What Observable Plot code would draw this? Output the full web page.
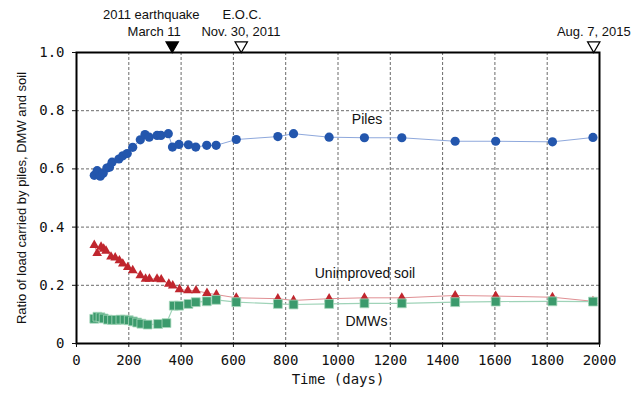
<!DOCTYPE html>
<html>
<head>
<meta charset="utf-8">
<script src="https://cdn.jsdelivr.net/npm/d3@7"></script>
<script src="https://cdn.jsdelivr.net/npm/@observablehq/plot@0.6"></script>
<style>
  html, body { margin: 0; padding: 0; background: #fff; }
  svg { display: block; }
</style>
</head>
<body>
<div id="chart"></div>
<script>
// ---- data ----
const pileDays = [68,79,91,102,116,126,136,162,177,194,215,244,262,278,308,323,351,367,392,428,456,498,534,611,770,830,966,1101,1244,1448,1603,1820,1975];
const pileRatio = [0.578,0.594,0.575,0.585,0.603,0.606,0.623,0.634,0.645,0.653,0.674,0.700,0.718,0.709,0.715,0.715,0.721,0.675,0.684,0.683,0.675,0.681,0.681,0.701,0.711,0.721,0.709,0.707,0.707,0.695,0.695,0.693,0.708];

const soilDays = [68,79,94,104,113,132,148,164,177,196,215,244,264,279,308,324,353,368,394,426,457,499,535,611,770,830,966,1101,1244,1448,1603,1820,1975];
const soilRatio = [0.338,0.310,0.332,0.325,0.318,0.298,0.295,0.285,0.274,0.262,0.251,0.234,0.222,0.222,0.222,0.220,0.205,0.199,0.186,0.182,0.182,0.173,0.168,0.157,0.154,0.148,0.154,0.157,0.157,0.165,0.163,0.159,0.145];

const dmwDays = [68,80,92,104,120,136,152,168,184,200,216,232,248,272,312,344,372,392,428,456,498,534,611,770,830,966,1101,1244,1448,1603,1820,1975];
const dmwRatio = [0.085,0.092,0.090,0.086,0.082,0.081,0.081,0.082,0.082,0.080,0.076,0.072,0.068,0.065,0.067,0.070,0.130,0.130,0.136,0.142,0.145,0.150,0.142,0.136,0.134,0.136,0.138,0.138,0.142,0.144,0.145,0.144];

const xTicks = [0,200,400,600,800,1000,1200,1400,1600,1800,2000];
const yTicks = [0,0.2,0.4,0.6,0.8,1.0];

const eventDays = [366, 630, 1978];
const eventFilled = [true, false, false];
const eventLabelText = ["2011 earthquake", "March 11", "E.O.C.", "Nov. 30, 2011", "Aug. 7, 2015"];
const eventLabelDays = [286, 297, 633, 629, 1978];
const eventLabelLine = [0, 1, 0, 1, 1];

const seriesNames = ["Piles", "Unimproved soil", "DMWs"];
const seriesLabelDays = [1111, 1103, 1109];
const seriesLabelRatio = [0.770, 0.242, 0.074];

// ---- tables ----
const piles = pileDays.map((d, i) => ({d, v: pileRatio[i]}));
const soil = soilDays.map((d, i) => ({d, v: soilRatio[i]}));
const dmw = dmwDays.map((d, i) => ({d, v: dmwRatio[i]}));
const events = eventDays.map((d, i) => ({d, filled: eventFilled[i]}));
const eventLabels = eventLabelText.map((t, i) => ({t, d: eventLabelDays[i], line: eventLabelLine[i]}));
const seriesLabels = seriesNames.map((t, i) => ({t, d: seriesLabelDays[i], v: seriesLabelRatio[i]}));

const font = "'Liberation Sans', Arial, sans-serif";
const mono = "'DejaVu Sans Mono', monospace";
const gridStyle = {stroke: "#444", strokeOpacity: 1, strokeWidth: 0.8, strokeDasharray: "3,2"};

const chart = Plot.plot({
  width: 642,
  height: 394,
  marginLeft: 76,
  marginRight: 43,
  marginTop: 52,
  marginBottom: 51,
  style: {fontFamily: font, fontSize: "13px", color: "#111", background: "#fff"},
  x: {domain: [0, 2000]},
  y: {domain: [0, 1]},
  marks: [
    Plot.gridX(xTicks.slice(1, -1), gridStyle),
    Plot.gridY(yTicks.slice(1, -1), gridStyle),
    // lines
    Plot.line(soil, {x: "d", y: "v", stroke: "#e08f93", strokeWidth: 1}),
    Plot.line(dmw, {x: "d", y: "v", stroke: "#9fd3b8", strokeWidth: 1.2}),
    Plot.line(piles, {x: "d", y: "v", stroke: "#8ea8dc", strokeWidth: 1}),
    // markers
    Plot.dot(soil, {x: "d", y: "v", symbol: "triangle", r: 3.6, fill: "#c0262e", stroke: "none"}),
    Plot.dot(dmw, {x: "d", y: "v", symbol: "square", r: 5, fill: "#3b9a6c", stroke: "#a8d8bd", strokeWidth: 0.8}),
    Plot.dot(piles, {x: "d", y: "v", symbol: "circle", r: 4.6, fill: "#2356ad", stroke: "none"}),
    // frame
    Plot.frame({stroke: "#000", strokeWidth: 2}),
    // axes
    Plot.axisX({ticks: xTicks, tickSize: 4, tickPadding: 8, tickFormat: d => String(d),
      fontSize: 14, fontFamily: mono, label: null}),
    Plot.axisX({ticks: [], label: "Time (days)", labelAnchor: "center", labelArrow: "none",
      labelOffset: 40, fontSize: 14, fontFamily: mono}),
    Plot.axisY({ticks: yTicks, tickSize: 4, tickPadding: 8,
      tickFormat: d => d === 0 ? "0" : d.toFixed(1),
      fontSize: 14, fontFamily: mono, label: null}),
    Plot.axisY({ticks: [], label: "Ratio of load carried by piles, DMW and soil", labelAnchor: "center",
      labelArrow: "none", labelOffset: 60, fontSize: 13, fontFamily: font}),
    // event markers above frame
    Plot.dot(events, {x: "d", y: () => 1, symbol: "triangle", rotate: 180, r: 4.6, dy: -7,
      fill: e => e.filled ? "#000" : "#fff", stroke: "#000", strokeWidth: 1.2, clip: false}),
    Plot.text(eventLabels, {x: "d", y: () => 1, text: "t",
      fontSize: 13, fill: "#111", clip: false,
      filter: e => e.line === 0, dy: -38}),
    Plot.text(eventLabels, {x: "d", y: () => 1, text: "t",
      fontSize: 13, fill: "#111", clip: false,
      filter: e => e.line === 1, dy: -21}),
    // series labels
    Plot.text(seriesLabels, {x: "d", y: "v", text: "t", fontSize: 14, fill: "#111"})
  ]
});

document.getElementById("chart").appendChild(chart);
</script>
</body>
</html>
